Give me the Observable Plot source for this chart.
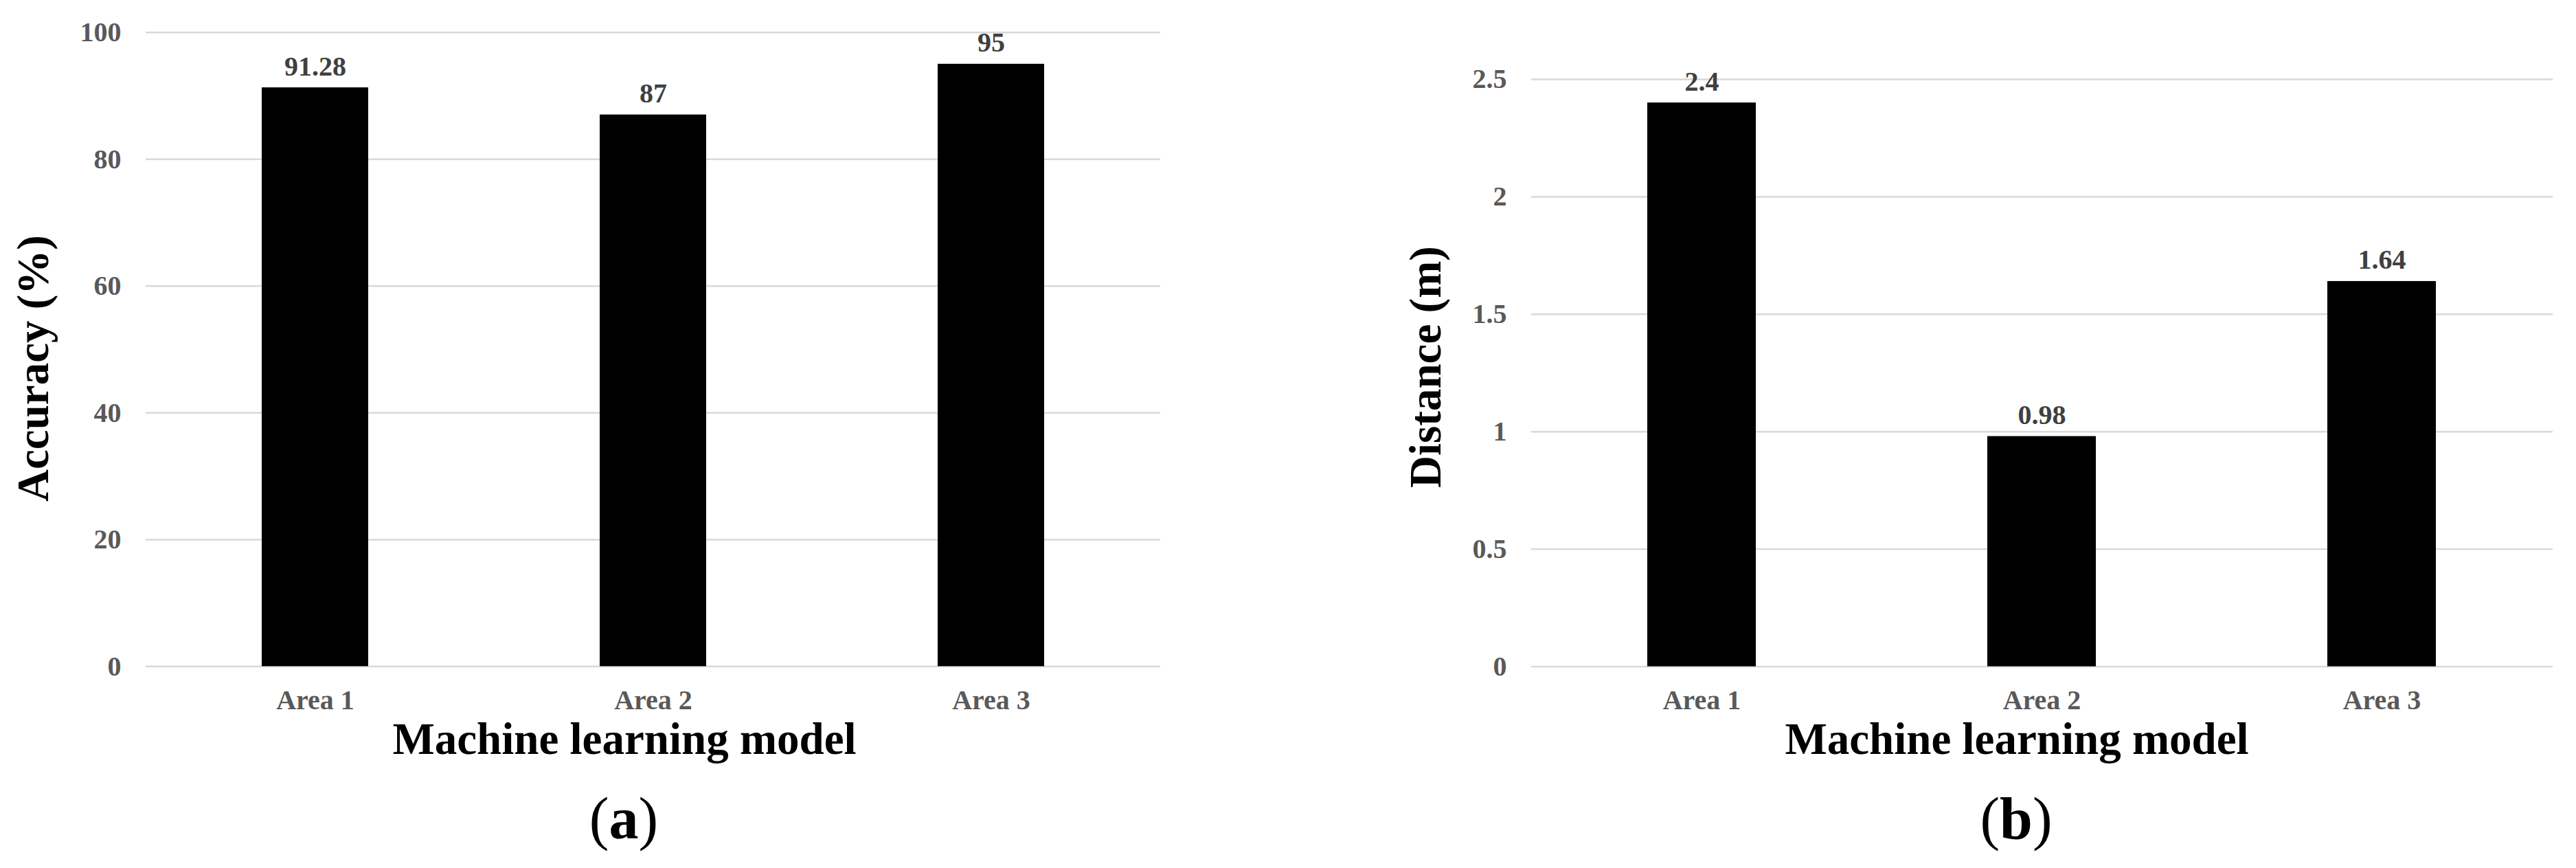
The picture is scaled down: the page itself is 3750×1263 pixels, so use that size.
<!DOCTYPE html>
<html><head><meta charset="utf-8">
<script src="https://cdn.jsdelivr.net/npm/d3@7"></script>
<script src="https://cdn.jsdelivr.net/npm/@observablehq/plot@0.6"></script>
<style>
html,body{margin:0;padding:0;background:#fff;}
#wrap{position:relative;width:3750px;height:1263px;overflow:hidden;background:#fff;}
#wrap svg{position:absolute;top:0;}
</style></head><body><div id="wrap"></div>
<script>
const areas = ["Area 1", "Area 2", "Area 3"];
const accuracy = [91.28, 87, 95];
const distance = [2.4, 0.98, 1.64];
const accuracyTicks = [0, 20, 40, 60, 80, 100];
const distanceTicks = [0, 0.5, 1, 1.5, 2, 2.5];
const xTitle = "Machine learning model";
const yTitleA = "Accuracy (%)";
const yTitleB = "Distance (m)";
const panelLetters = ["a", "b"];

const FONT = "'Liberation Serif', 'Times New Roman', serif";

function makePanel(cfg) {
  const data = areas.map((a, i) => ({area: a, value: cfg.values[i]}));
  const svg = Plot.plot({
    width: cfg.width,
    height: 1263,
    marginLeft: cfg.ml, marginRight: cfg.mr, marginTop: cfg.mt, marginBottom: cfg.mb,
    style: {background: "white", fontFamily: FONT, overflow: "visible"},
    x: {domain: areas, paddingInner: cfg.pi, paddingOuter: cfg.pi / 2, label: null, axis: null},
    y: {domain: [0, cfg.ticks[cfg.ticks.length - 1]], label: null, axis: null},
    marks: [
      Plot.ruleY(cfg.ticks, {stroke: "#d9d9d9", strokeWidth: 2.5}),
      Plot.barY(data, {x: "area", y: "value", fill: "#000"}),
      Plot.axisY({ticks: cfg.ticks, tickSize: 0, tickPadding: 36, tickFormat: d => String(d),
        fontSize: 40, fontWeight: "bold", color: "#595959", label: null}),
      Plot.axisX({tickSize: 0, tickPadding: 34, fontSize: 40, fontWeight: "bold", color: "#595959", label: null}),
      Plot.text(data, {x: "area", y: "value", text: d => String(d.value), dy: -18, lineAnchor: "bottom",
        fontSize: 40, fontWeight: "bold", fill: "#404040"})
    ]
  });
  svg.style.left = cfg.left + "px";
  const s = d3.select(svg);
  s.append("text").attr("x", cfg.xtx).attr("y", 1097).attr("text-anchor", "middle")
    .attr("font-family", FONT).attr("font-size", 65).attr("font-weight", "bold").attr("fill", "#000")
    .text(xTitle);
  const cap = s.append("text").attr("x", cfg.xtx - 1).attr("y", 1220).attr("text-anchor", "middle")
    .attr("font-family", FONT).attr("font-size", 86).attr("fill", "#000");
  cap.append("tspan").text("(");
  cap.append("tspan").attr("font-weight", "bold").text(cfg.letter);
  cap.append("tspan").text(")");
  s.append("text").attr("transform", `translate(${cfg.ytx},${cfg.yty}) rotate(-90)`).attr("text-anchor", "middle")
    .attr("font-family", FONT).attr("font-size", 65).attr("font-weight", "bold").attr("fill", "#000")
    .text(cfg.yTitle);
  document.getElementById("wrap").appendChild(svg);
}

makePanel({values: accuracy, ticks: accuracyTicks, width: 1750, left: 0,
  ml: 212, mr: 61, mt: 46.7, mb: 293.7, pi: 0.685,
  xtx: 909, ytx: 70, yty: 536, yTitle: yTitleA, letter: panelLetters[0]});
makePanel({values: distance, ticks: distanceTicks, width: 1875, left: 1875,
  ml: 354, mr: 34, mt: 115, mb: 293.5, pi: 0.68,
  xtx: 1061, ytx: 222, yty: 534, yTitle: yTitleB, letter: panelLetters[1]});
</script>
</body></html>
